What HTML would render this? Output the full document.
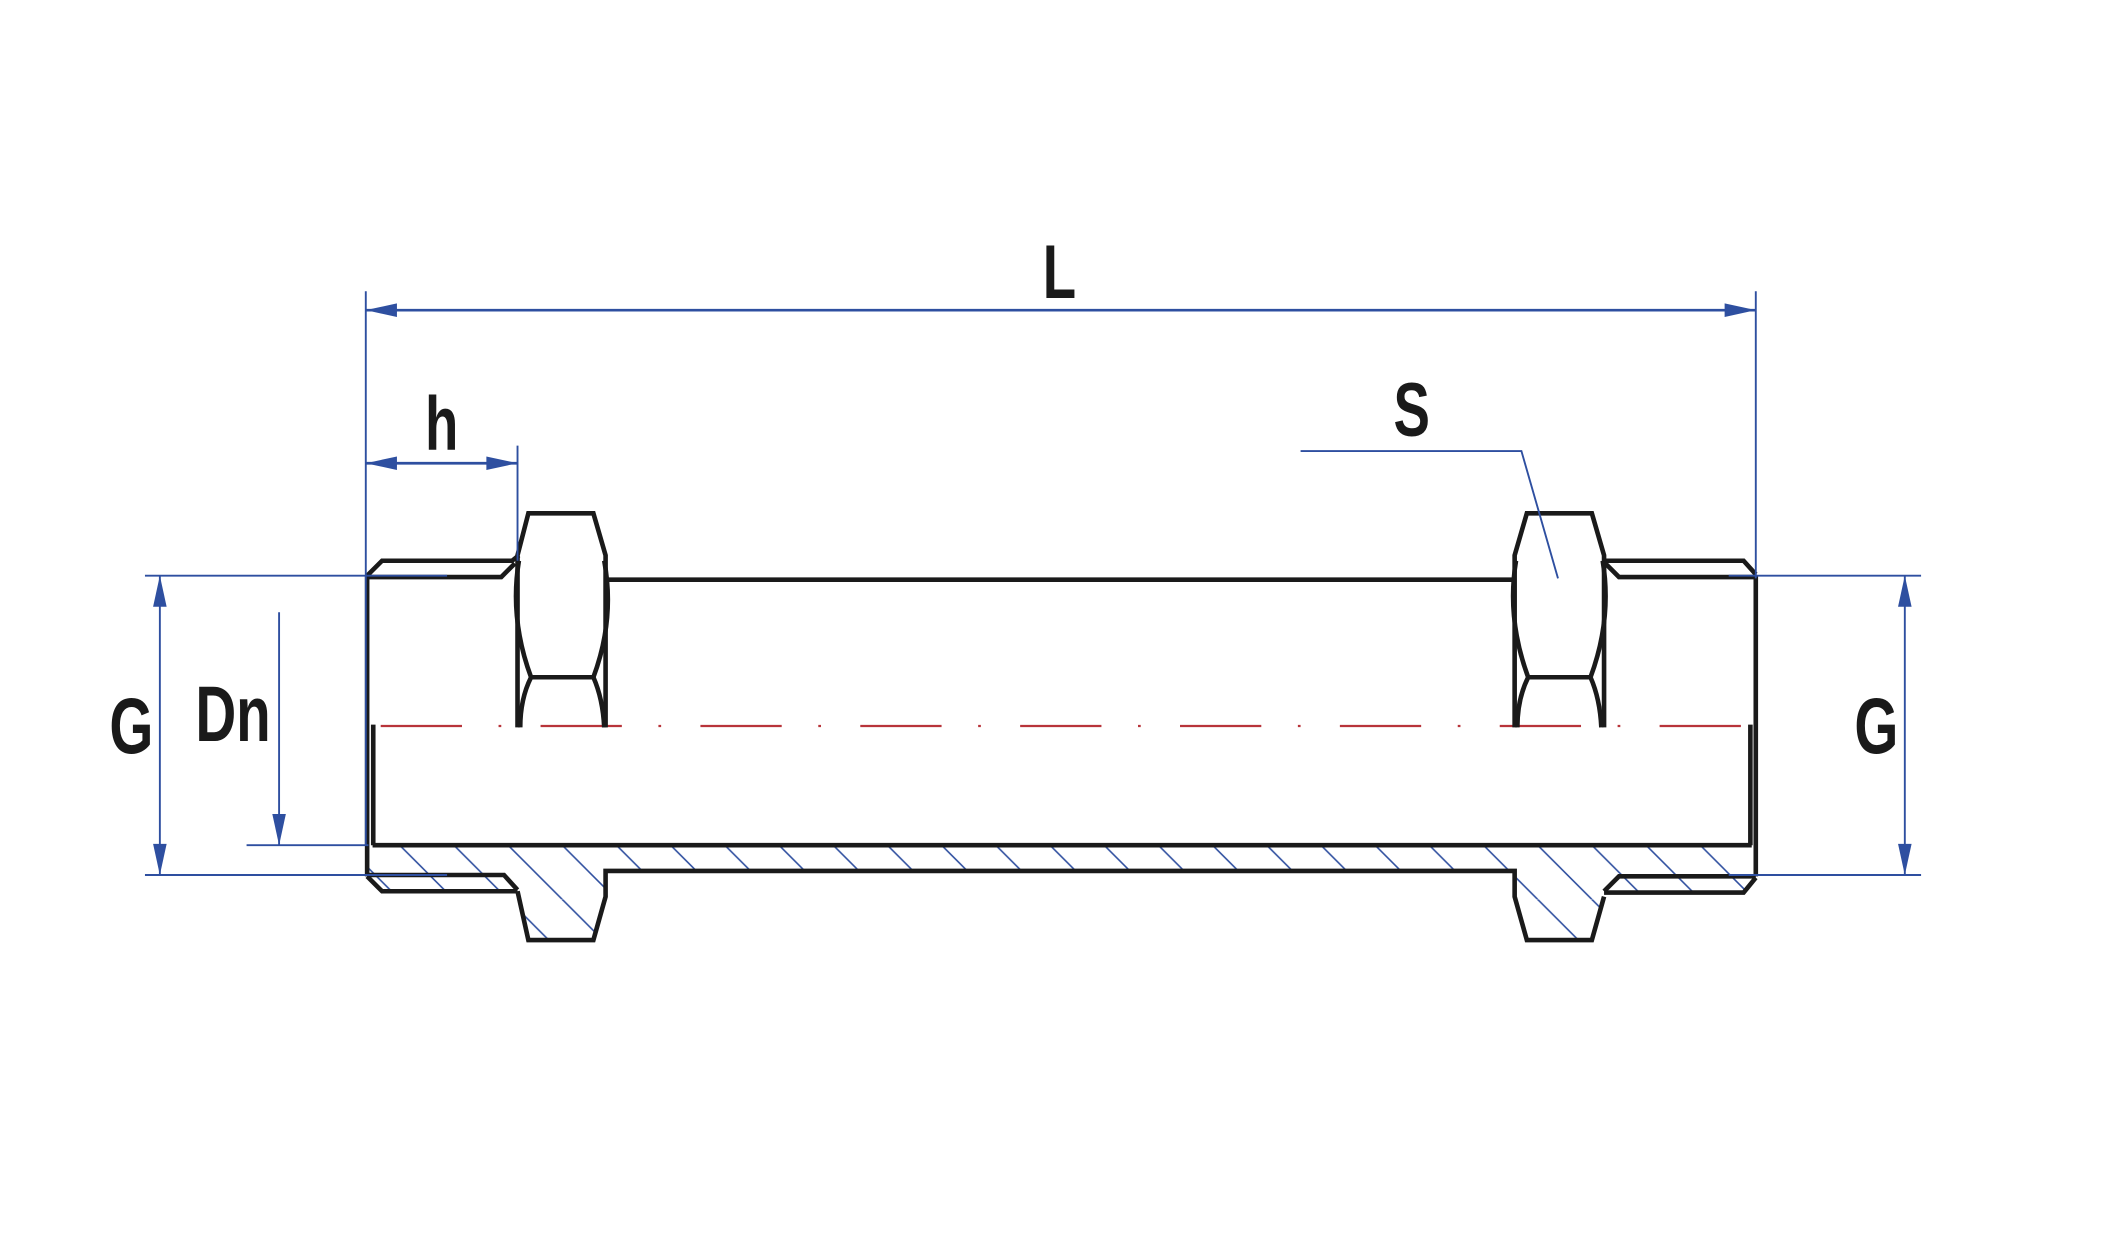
<!DOCTYPE html>
<html><head><meta charset="utf-8"><style>
html,body{margin:0;padding:0;background:#fff;}
svg{display:block;}
text{font-family:"Liberation Sans",sans-serif;font-weight:bold;fill:#1a1a1a;}
</style></head><body>
<svg width="2127" height="1238" viewBox="0 -2 1570 914" preserveAspectRatio="none" xmlns="http://www.w3.org/2000/svg">
<defs>
<pattern id="hat" patternUnits="userSpaceOnUse" width="40" height="40" x="295" y="622">
<line x1="0" y1="0" x2="40" y2="40" stroke="#3050a0" stroke-width="1.2"/>
<line x1="-40" y1="0" x2="0" y2="40" stroke="#3050a0" stroke-width="1.2"/>
<line x1="40" y1="0" x2="80" y2="40" stroke="#3050a0" stroke-width="1.2"/>
</pattern>
</defs>
<polygon points="271,622 1292,622 1296,636 1287,656 1195,656 1184,660 1175,692 1127,692 1118,660 1118,641 447,641 447,660 438,692 390,692 382,660 372,656 282,656 271,645" fill="url(#hat)"/>

<line x1="275" y1="534" x2="1293" y2="534" stroke="#b8343a" stroke-width="1.6" stroke-dasharray="60 27 2 29" stroke-dashoffset="112"/>

<g fill="none" stroke="#1a1a1a" stroke-width="3.4" stroke-linejoin="miter">
<line x1="271" y1="423" x2="271" y2="645"/>
<line x1="275.5" y1="533" x2="275.5" y2="622"/>
<polyline points="271,423 282,412 378,412 383,408"/>
<polyline points="271,424 370,424 380,414"/>
<polyline points="271,644 372,644 382,655"/>
<polyline points="271,645 282,656 382,656"/>
<line x1="275" y1="622" x2="1293" y2="622"/>
<polyline points="382,656 390,692 438,692 447,660 447,641 1118,641 1118,660 1127,692 1175,692 1184,660"/>
<polyline points="1184,656 1195,645 1296,645"/>
<polyline points="1184,657 1287,657 1296,646"/>
<line x1="1296" y1="423" x2="1296" y2="645"/>
<line x1="1292" y1="533" x2="1292" y2="622"/>
<polyline points="1184,412 1287,412 1296,422"/>
<polyline points="1184,413 1195,424 1296,424"/>
<line x1="447" y1="426" x2="1118" y2="426"/>
<polyline points="382,535 382,408 390,377 438,377 447,408 447,535"/>
<path d="M383,412 Q376,455 392,498 L438,498 Q454,455 446,412"/>
<path d="M392,498 Q384,514 384,535 M438,498 Q445,514 446,535"/>
<polyline points="1118,535 1118,408 1127,377 1175,377 1184,408 1184,535"/>
<path d="M1119,412 Q1112,455 1128,498 L1174,498 Q1190,455 1183,412"/>
<path d="M1128,498 Q1120,514 1120,535 M1174,498 Q1181,514 1182,535"/>
</g>

<g stroke="#2e4fa0" stroke-width="1.4" fill="none">
<line x1="270" y1="213" x2="270" y2="622"/>
<line x1="1296" y1="213" x2="1296" y2="425"/>
<line x1="270" y1="227" x2="1296" y2="227" stroke-width="2"/>
<line x1="382" y1="327" x2="382" y2="412"/>
<line x1="270" y1="340" x2="382" y2="340" stroke-width="2"/>
<polyline points="960,331 1123,331 1150,425"/>
<line x1="107" y1="423" x2="330" y2="423"/>
<line x1="107" y1="644" x2="330" y2="644"/>
<line x1="118" y1="423" x2="118" y2="644"/>
<line x1="206" y1="450" x2="206" y2="622"/>
<line x1="182" y1="622" x2="272" y2="622"/>
<line x1="1276" y1="423" x2="1418" y2="423"/>
<line x1="1276" y1="644" x2="1418" y2="644"/>
<line x1="1406" y1="423" x2="1406" y2="644"/>
</g>
<g fill="#2e4fa0">
<polygon points="270,227 293,222 293,232"/>
<polygon points="1296,227 1273,222 1273,232"/>
<polygon points="270,340 293,335 293,345"/>
<polygon points="382,340 359,335 359,345"/>
<polygon points="118,423 113,446 123,446"/>
<polygon points="118,644 113,621 123,621"/>
<polygon points="206,622 201,599 211,599"/>
<polygon points="1406,423 1401,446 1411,446"/>
<polygon points="1406,644 1401,621 1411,621"/>
</g>

<text transform="translate(782,218) scale(0.72,1)" font-size="56" text-anchor="middle">L</text>
<text transform="translate(326,330) scale(0.72,1)" font-size="56" text-anchor="middle">h</text>
<text transform="translate(1042,320) scale(0.72,1)" font-size="56" text-anchor="middle">S</text>
<text transform="translate(97,554) scale(0.72,1)" font-size="58" text-anchor="middle">G</text>
<text transform="translate(172,545) scale(0.72,1)" font-size="58" text-anchor="middle">Dn</text>
<text transform="translate(1385,554) scale(0.72,1)" font-size="58" text-anchor="middle">G</text>
</svg>
</body></html>
